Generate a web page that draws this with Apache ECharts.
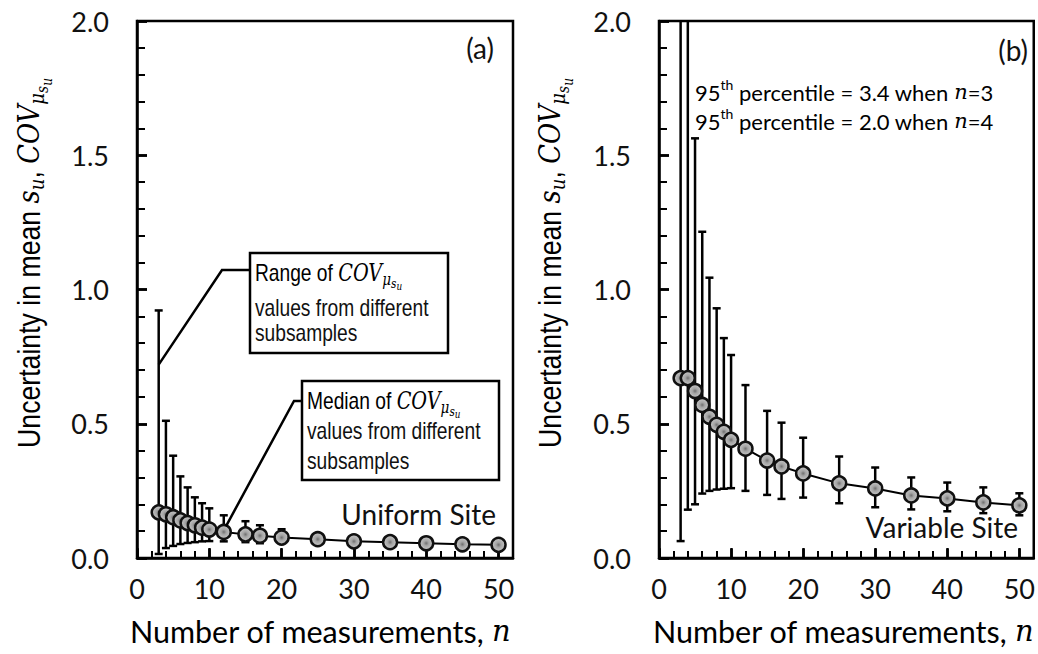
<!DOCTYPE html>
<html>
<head>
<meta charset="utf-8">
<script src="https://cdn.jsdelivr.net/npm/echarts@6/dist/echarts.min.js"></script>
<style>
  html, body { margin: 0; padding: 0; background: #ffffff; }
  #chart { width: 1038px; height: 654px; }
</style>
</head>
<body>
<div id="chart"></div>
<script>
// Number of measurements in each subsample
const nValues = [3, 4, 5, 6, 7, 8, 9, 10, 12, 15, 17, 20, 25, 30, 35, 40, 45, 50];

// (a) Uniform site: median COV and range over subsamples
const uniformMedian = [0.170, 0.163, 0.152, 0.140, 0.130, 0.122, 0.113, 0.106, 0.097, 0.088, 0.083, 0.076, 0.070, 0.062, 0.059, 0.055, 0.051, 0.049];
const uniformLow    = [0.015, 0.037, 0.045, 0.052, 0.056, 0.059, 0.062, 0.063, 0.062, 0.059, 0.055, 0.057, 0.058, 0.052, 0.050, 0.047, 0.044, 0.042];
const uniformHigh   = [0.922, 0.511, 0.381, 0.304, 0.263, 0.226, 0.204, 0.185, 0.159, 0.137, 0.122, 0.107, 0.085, 0.075, 0.070, 0.066, 0.061, 0.058];

// (b) Variable site: median COV and 5th–95th percentile range
const variableMedian = [0.670, 0.670, 0.622, 0.570, 0.526, 0.496, 0.470, 0.440, 0.407, 0.363, 0.341, 0.315, 0.278, 0.259, 0.233, 0.222, 0.207, 0.196];
const variableLow    = [0.063, 0.180, 0.200, 0.240, 0.250, 0.255, 0.258, 0.260, 0.250, 0.235, 0.220, 0.225, 0.204, 0.189, 0.181, 0.174, 0.167, 0.159];
const variableHigh   = [3.400, 2.000, 1.563, 1.215, 1.044, 0.930, 0.819, 0.756, 0.644, 0.548, 0.504, 0.448, 0.378, 0.337, 0.300, 0.281, 0.263, 0.241];

// Axis ticks
const xTickValues = [0, 10, 20, 30, 40, 50];
const yTickValues = [0, 0.5, 1.0, 1.5, 2.0];

// Arial-style face, condensed with a horizontal scale where a narrow face is wanted
const ARIAL = "'Liberation Sans', Arial, sans-serif";
const NARROW_SCALE = 0.8;
const TITLE_SCALE = 0.86;
const HUMAN = "Lato, 'Open Sans', sans-serif";
const MATH = "'DejaVu Serif', 'Liberation Serif', serif";
const INK = '#111111';

const chart = echarts.init(document.getElementById('chart'), null, { renderer: 'svg' });

function pairs(xs, ys) { return xs.map((x, i) => [x, ys[i]]); }
function ranges(xs, lo, hi) { return xs.map((x, i) => [x, lo[i], hi[i]]); }

// Vertical range bar with caps, clipped at the top of the plot
function rangeBar(params, api) {
  const x = api.value(0);
  const lo = api.coord([x, api.value(1)]);
  const hi = api.coord([x, api.value(2)]);
  const cs = params.coordSys;
  const top = Math.max(hi[1], cs.y);
  const half = 4;
  const style = { stroke: '#000', lineWidth: 2.5, fill: null };
  const children = [
    { type: 'line', shape: { x1: lo[0], y1: lo[1], x2: lo[0], y2: top }, style },
    { type: 'line', shape: { x1: lo[0] - half, y1: lo[1], x2: lo[0] + half, y2: lo[1] }, style }
  ];
  if (hi[1] > cs.y + 1) {
    children.push({ type: 'line', shape: { x1: hi[0] - half, y1: hi[1], x2: hi[0] + half, y2: hi[1] }, style });
  }
  return { type: 'group', children };
}

const markerFill = {
  type: 'radial', x: 0.5, y: 0.5, r: 0.5,
  colorStops: [
    { offset: 0, color: '#6f6f6f' },
    { offset: 0.35, color: '#a4a4a4' },
    { offset: 1, color: '#c9c9c9' }
  ]
};

function medianSeries(data, xi, yi) {
  return {
    type: 'line', data, xAxisIndex: xi, yAxisIndex: yi,
    symbol: 'circle', symbolSize: 14, z: 5,
    lineStyle: { color: '#000', width: 2 },
    itemStyle: { color: markerFill, borderColor: INK, borderWidth: 2.5 },
    emphasis: { disabled: true }, animation: false
  };
}
function rangeSeries(data, xi, yi) {
  return {
    type: 'custom', data, xAxisIndex: xi, yAxisIndex: yi,
    renderItem: rangeBar, clip: true, z: 3, animation: false,
    encode: { x: 0, y: [1, 2] }
  };
}

function xAxes(gi) {
  const base = { type: 'value', gridIndex: gi, min: 0, max: 52, interval: 10 };
  return [
    Object.assign({}, base, {
      axisLine: { lineStyle: { color: '#000', width: 2.5 } },
      axisTick: { inside: true, length: 9, lineStyle: { width: 2.5, color: '#000' }, customValues: xTickValues },
      minorTick: { show: true, splitNumber: 5, length: 7, lineStyle: { width: 2, color: '#000' } },
      axisLabel: { customValues: xTickValues, margin: 17, fontFamily: HUMAN, fontSize: 27, color: INK },
      splitLine: { show: false }
    }),
    Object.assign({}, base, {
      axisLine: { show: false },
      axisTick: { inside: false, length: 10, lineStyle: { width: 2.5, color: '#000' }, customValues: xTickValues },
      axisLabel: { show: false }, splitLine: { show: false }
    })
  ];
}
function yAxes(gi) {
  const base = { type: 'value', gridIndex: gi, min: 0, max: 2, interval: 0.5 };
  return [
    Object.assign({}, base, {
      axisLine: { show: true, lineStyle: { color: '#000', width: 2.5 } },
      axisTick: { show: true, inside: true, length: 10, lineStyle: { width: 2.5, color: '#000' } },
      minorTick: { show: true, splitNumber: 5, length: 8, lineStyle: { width: 2, color: '#000' } },
      axisLabel: { customValues: yTickValues, margin: 28, fontFamily: HUMAN, fontSize: 27, color: INK,
                   formatter: v => v.toFixed(1) },
      splitLine: { show: false }
    }),
    Object.assign({}, base, {
      axisLine: { show: false },
      axisTick: { show: true, inside: false, length: 10, lineStyle: { width: 2.5, color: '#000' } },
      axisLabel: { show: false }, splitLine: { show: false }
    })
  ];
}

const mathRich = {
  t:  { fontFamily: ARIAL, fontSize: 31, color: INK },
  m:  { fontFamily: MATH, fontStyle: 'italic', fontSize: 30, color: INK },
  s1: { fontFamily: MATH, fontStyle: 'italic', fontSize: 21, color: INK, padding: [16, 0, 0, 0] },
  s2: { fontFamily: MATH, fontStyle: 'italic', fontSize: 16, color: INK, padding: [28, 0, 0, 0] },
  s3: { fontFamily: MATH, fontStyle: 'italic', fontSize: 14, color: INK, padding: [36, 0, 0, 0] }
};
const boxRich = {
  t:  { fontFamily: ARIAL, fontSize: 24, color: INK },
  m:  { fontFamily: MATH, fontStyle: 'italic', fontSize: 24, color: INK },
  s1: { fontFamily: MATH, fontStyle: 'italic', fontSize: 17, color: INK, padding: [12, 0, 0, 0] },
  s2: { fontFamily: MATH, fontStyle: 'italic', fontSize: 13, color: INK, padding: [21, 0, 0, 0] },
  s3: { fontFamily: MATH, fontStyle: 'italic', fontSize: 11, color: INK, padding: [27, 0, 0, 0] }
};
const noteRich = {
  t:  { fontFamily: HUMAN, fontSize: 22, color: INK },
  sup:{ fontFamily: HUMAN, fontSize: 14, color: INK, padding: [0, 0, 15, 0] },
  n:  { fontFamily: MATH, fontStyle: 'italic', fontSize: 21, color: INK }
};
const titleRich = {
  t: { fontFamily: HUMAN, fontSize: 30.5, color: INK },
  n: { fontFamily: MATH, fontStyle: 'italic', fontSize: 29, color: INK }
};

const yTitle = '{t|Uncertainty in mean }{m|s}{s1|u}{t|, }{m|COV}{s1|μ}{s2|s}{s3|u}';
const xTitle = '{t|Number of measurements, }{n|n}';

chart.setOption({
  animation: false,
  backgroundColor: '#ffffff',
  grid: [
    { left: 137, right: 525, top: 21, bottom: 96, show: true, borderColor: '#000', borderWidth: 2.5, containLabel: false },
    { left: 659, right: 4, top: 21, bottom: 96, show: true, borderColor: '#000', borderWidth: 2.5, containLabel: false }
  ],
  xAxis: [...xAxes(0), ...xAxes(1)],
  yAxis: [...yAxes(0), ...yAxes(1)],
  series: [
    rangeSeries(ranges(nValues, uniformLow, uniformHigh), 0, 0),
    medianSeries(pairs(nValues, uniformMedian), 0, 0),
    rangeSeries(ranges(nValues, variableLow, variableHigh), 2, 2),
    medianSeries(pairs(nValues, variableMedian), 2, 2)
  ]
});

// Leader-line tips in data coordinates
const rangeTip = chart.convertToPixel({ xAxisIndex: 0, yAxisIndex: 0 }, [3, 0.72]);
const medianTip = chart.convertToPixel({ xAxisIndex: 0, yAxisIndex: 0 }, [12.3, 0.118]);

const lineStyle = { stroke: '#000', lineWidth: 2.5, fill: null };
const boxStyle = { stroke: '#000', lineWidth: 2.5, fill: '#ffffff' };

function narrowText(x, y, text, extra) {
  return Object.assign({
    type: 'text', x, y, z: 21, scaleX: NARROW_SCALE,
    style: { text, fontFamily: ARIAL, fontSize: 24, fill: INK, align: 'left', verticalAlign: 'middle' }
  }, extra || {});
}

chart.setOption({
  graphic: [
    // axis titles
    { type: 'text', x: 29, y: 263, rotation: Math.PI / 2, scaleX: TITLE_SCALE, style: { text: yTitle, rich: mathRich, align: 'center', verticalAlign: 'middle' } },
    { type: 'text', x: 550, y: 263, rotation: Math.PI / 2, scaleX: TITLE_SCALE, style: { text: yTitle, rich: mathRich, align: 'center', verticalAlign: 'middle' } },
    { type: 'text', x: 320, y: 631, style: { text: xTitle, rich: titleRich, align: 'center', verticalAlign: 'middle' } },
    { type: 'text', x: 843, y: 631, style: { text: xTitle, rich: titleRich, align: 'center', verticalAlign: 'middle' } },

    // panel tags and site names
    { type: 'text', x: 494, y: 48, z: 10, style: { text: '(a)', fontFamily: HUMAN, fontSize: 28, fill: INK, align: 'right', verticalAlign: 'middle' } },
    { type: 'text', x: 1028, y: 50, z: 10, style: { text: '(b)', fontFamily: HUMAN, fontSize: 28, fill: INK, align: 'right', verticalAlign: 'middle' } },
    { type: 'text', x: 496, y: 514, z: 10, style: { text: 'Uniform Site', fontFamily: HUMAN, fontSize: 28, fill: INK, align: 'right', verticalAlign: 'middle' } },
    { type: 'text', x: 1018, y: 527, z: 10, style: { text: 'Variable Site', fontFamily: HUMAN, fontSize: 28, fill: INK, align: 'right', verticalAlign: 'middle' } },

    // percentile notes for n = 3 and 4
    { type: 'text', x: 695, y: 92, z: 10, style: { text: '{t|95}{sup|th}{t| percentile = 3.4 when }{n|n}{t|=3}', rich: noteRich, align: 'left', verticalAlign: 'middle' } },
    { type: 'text', x: 695, y: 121, z: 10, style: { text: '{t|95}{sup|th}{t| percentile = 2.0 when }{n|n}{t|=4}', rich: noteRich, align: 'left', verticalAlign: 'middle' } },

    // callout: range
    { type: 'polyline', z: 20, shape: { points: [[250, 270], [222, 270], rangeTip] }, style: lineStyle },
    { type: 'rect', z: 20, shape: { x: 250, y: 253, width: 198, height: 100 }, style: boxStyle },
    narrowText(255, 273, '', { style: { text: '{t|Range of }{m|COV}{s1|μ}{s2|s}{s3|u}', rich: boxRich, align: 'left', verticalAlign: 'middle' } }),
    narrowText(255, 308, 'values from different'),
    narrowText(255, 333, 'subsamples'),

    // callout: median
    { type: 'polyline', z: 20, shape: { points: [[302, 401], [294, 401], medianTip] }, style: lineStyle },
    { type: 'rect', z: 20, shape: { x: 302, y: 381, width: 197, height: 99 }, style: boxStyle },
    narrowText(307, 401, '', { style: { text: '{t|Median of }{m|COV}{s1|μ}{s2|s}{s3|u}', rich: boxRich, align: 'left', verticalAlign: 'middle' } }),
    narrowText(307, 431, 'values from different'),
    narrowText(307, 461, 'subsamples')
  ]
});
</script>
</body>
</html>
